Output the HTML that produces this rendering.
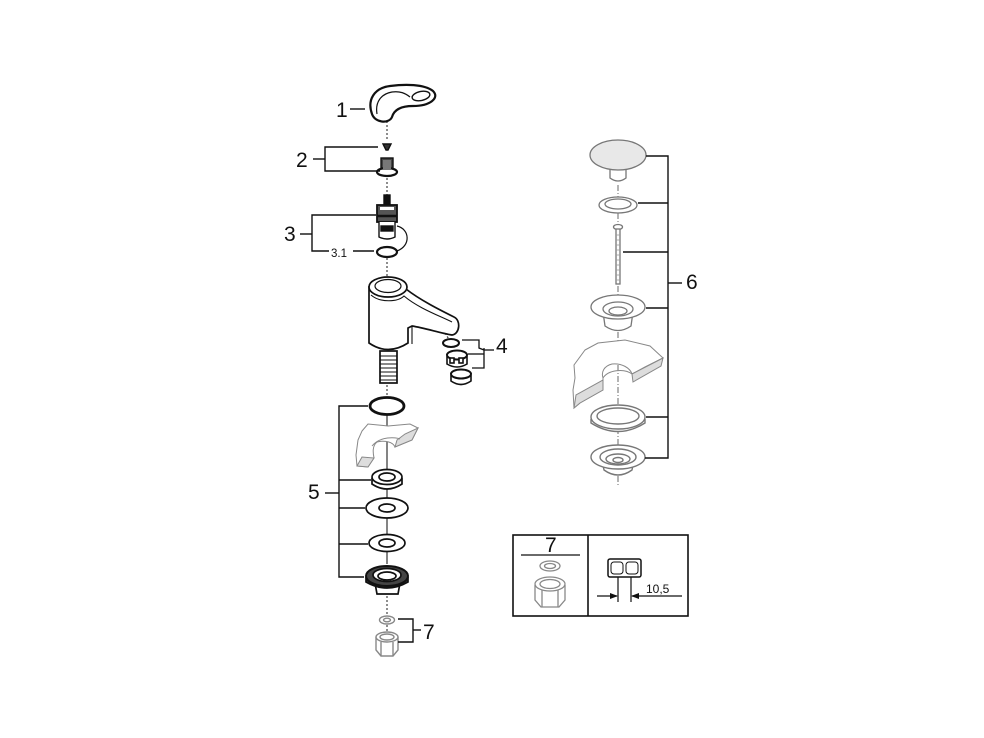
<!DOCTYPE html>
<html><head><meta charset="utf-8"><style>
html,body{margin:0;padding:0;background:#fff;}
svg{display:block;}
text{font-family:"Liberation Sans",sans-serif;fill:#111;}
</style></head><body>
<svg width="984" height="738" viewBox="0 0 984 738" xmlns="http://www.w3.org/2000/svg">
<rect width="984" height="738" fill="#fff"/>

<!-- ===== LEFT AXIS dashed ===== -->
<g stroke="#444" stroke-width="1.2" stroke-dasharray="2,2" fill="none">
  <line x1="387" y1="121" x2="387" y2="141"/>
  <line x1="387" y1="178" x2="387" y2="196"/>
  <line x1="387" y1="258" x2="387" y2="278"/>
  <line x1="387" y1="385" x2="387" y2="397"/>
  <line x1="387" y1="596" x2="387" y2="614"/>
  <line x1="387" y1="625" x2="387" y2="633"/>
  <line x1="445" y1="333" x2="450" y2="341"/>
</g>
<g stroke="#333" stroke-width="1.2" fill="none">
  <line x1="387" y1="414" x2="387" y2="470"/>
  <line x1="387" y1="486" x2="387" y2="498"/>
  <line x1="387" y1="518" x2="387" y2="534"/>
  <line x1="387" y1="552" x2="387" y2="564"/>
</g>

<!-- ===== 1 handle ===== -->
<g stroke="#111" stroke-width="2.2" fill="#fff">
  <path d="M372,114 C367,100 374,88 390,86 C405,84 424,84 433,91 C440,98 430,106 413,106 C401,106 394,110 392,117 C389,124 375,123 372,114 Z"/>
  <path d="M377,114 C375,102 381,94 392,92 C400,91 405,93 410,97" fill="none" stroke-width="1.2"/>
  <ellipse cx="421" cy="96" rx="9" ry="4.5" transform="rotate(-12 421 96)" stroke-width="1.4"/>
</g>
<line x1="350" y1="109" x2="365" y2="109" stroke="#111" stroke-width="1.4"/>
<text x="336" y="117" font-size="21">1</text>

<!-- ===== 2 ===== -->
<g stroke="#111" stroke-width="1.4">
  <path d="M383,144 L391,144 L388,150 L386,150 Z" fill="#333"/>
  <rect x="381" y="158" width="12" height="12" fill="#444"/>
  <ellipse cx="387" cy="172" rx="10" ry="4" fill="#fff" stroke-width="2.2"/>
  <rect x="383" y="160" width="8" height="10" fill="#777" stroke="none"/>
</g>
<g stroke="#111" stroke-width="1.4" fill="none">
  <polyline points="378,147 325,147 325,171 380,171"/>
  <line x1="313" y1="159" x2="325" y2="159"/>
</g>
<text x="296" y="167" font-size="21">2</text>

<!-- ===== 3 cartridge ===== -->
<g stroke="#111" stroke-width="1.4">
  <rect x="384" y="195" width="6" height="11" fill="#111"/>
  <rect x="377" y="205" width="20" height="17" fill="#555" stroke-width="1.8"/>
  <rect x="380" y="207" width="14" height="3" fill="#fff" stroke="none"/>
  <line x1="377" y1="216" x2="397" y2="216" stroke-width="2.5"/>
  <path d="M379,222 L379,237 Q387,241 395,237 L395,222" fill="#fff"/>
  <rect x="381" y="226" width="12" height="5" fill="#111"/>
  <path d="M397,226 C410,229 411,246 397,251" fill="none" stroke-width="1.2"/>
  <ellipse cx="387" cy="252" rx="10" ry="5" fill="none" stroke-width="2.2"/>
</g>
<g stroke="#111" stroke-width="1.4" fill="none">
  <polyline points="376,215 312,215 312,251 329,251"/>
  <line x1="353" y1="251" x2="374" y2="251"/>
  <line x1="300" y1="234" x2="312" y2="234"/>
</g>
<text x="284" y="241" font-size="21">3</text>
<text x="331" y="257" font-size="11.5">3.1</text>

<!-- ===== faucet body ===== -->
<g stroke="#111" stroke-width="1.7" fill="#fff">
  <path d="M369,287 L369,343 Q388,356 408,343 L408,328 L412,326 C425,328 440,333 452,335 C460,334 461,320 454,317 C440,310 420,300 406,289 Z"/>
  <ellipse cx="388" cy="287" rx="19" ry="10"/>
  <ellipse cx="388" cy="286" rx="13" ry="6.5" stroke-width="1.2"/>
  <path d="M371,295 C380,303 398,302 404,296 C418,308 440,316 452,322" fill="none" stroke-width="1.1"/>
  <line x1="412" y1="326" x2="412" y2="344" stroke-width="1.1"/>
  <rect x="380" y="351" width="17" height="32" fill="#fff"/>
</g>
<g stroke="#111" stroke-width="1.1">
  <line x1="380" y1="356" x2="397" y2="356"/><line x1="380" y1="360" x2="397" y2="360"/>
  <line x1="380" y1="364" x2="397" y2="364"/><line x1="380" y1="368" x2="397" y2="368"/>
  <line x1="380" y1="372" x2="397" y2="372"/><line x1="380" y1="376" x2="397" y2="376"/>
  <line x1="380" y1="380" x2="397" y2="380"/>
</g>

<!-- ===== 4 aerator ===== -->
<g stroke="#111" stroke-width="1.6" fill="#fff">
  <ellipse cx="451" cy="343" rx="8" ry="4" stroke-width="2"/>
  <path d="M447,356 L447,364 Q457,370 467,364 L467,356" />
  <ellipse cx="457" cy="355" rx="10" ry="4.5" stroke-width="2"/>
  <rect x="450" y="358" width="4" height="5" fill="#fff"/>
  <rect x="459" y="358" width="4" height="5" fill="#fff"/>
  <path d="M451,375 L451,381 Q461,388 471,381 L471,375" />
  <ellipse cx="461" cy="374" rx="10" ry="4.5" stroke-width="2"/>
</g>
<g stroke="#111" stroke-width="1.3" fill="none">
  <polyline points="462,340 479,340 479,348 484,350"/>
  <polyline points="468,354 484,354"/>
  <polyline points="472,368 484,368 484,348"/>
  <line x1="484" y1="350" x2="494" y2="350"/>
</g>
<text x="496" y="353" font-size="21">4</text>

<!-- ===== 5 ===== -->
<g stroke="#111" fill="#fff">
  <ellipse cx="387" cy="406" rx="17" ry="8.5" fill="none" stroke-width="2.8"/>
</g>
<!-- slab -->
<g stroke="#888" stroke-width="1" fill="#fff">
  <path d="M362,431 L368,424 L388,426 L410,424 L418,428 L412,440 L395,447 C393,442 385,440 377,442 C372,446 373,453 374,458 L368,467 L357,466 L356,455 L358,440 Z"/>
  <path d="M374,458 L368,467 L357,466 L362,457 Z" fill="#ddd"/>
  <path d="M395,447 L412,440 L418,428 L405,434 L397,440 Z" fill="#ddd"/>
  <path d="M372,446 C380,436 396,437 400,439" fill="none"/>
</g>
<g stroke="#111" stroke-width="1.7" fill="#fff">
  <path d="M372,478 L372,484 Q387,494 402,484 L402,478"/>
  <ellipse cx="387" cy="477" rx="15" ry="7.5"/>
  <ellipse cx="387" cy="477" rx="8" ry="4"/>
  <ellipse cx="387" cy="508" rx="21" ry="10"/>
  <ellipse cx="387" cy="508" rx="8" ry="4"/>
  <ellipse cx="387" cy="543" rx="18" ry="8.5"/>
  <ellipse cx="387" cy="543" rx="8" ry="4"/>
  <!-- big nut -->
  <path d="M375,583 L377,594 L398,594 L400,583 Z"/>
  <path d="M366,577 L366,582 Q387,594 408,582 L408,577" fill="#333"/>
  <ellipse cx="387" cy="576" rx="21" ry="10" stroke-width="2" fill="#444"/>
  <ellipse cx="387" cy="575" rx="14" ry="6.5" fill="#fff"/>
  <ellipse cx="387" cy="576" rx="9" ry="4"/>
</g>
<g stroke="#111" stroke-width="1.4" fill="none">
  <polyline points="368,406 339,406 339,577 364,577"/>
  <line x1="339" y1="480" x2="371" y2="480"/>
  <line x1="339" y1="508" x2="365" y2="508"/>
  <line x1="339" y1="544" x2="368" y2="544"/>
  <line x1="325" y1="493" x2="339" y2="493"/>
</g>
<text x="308" y="499" font-size="21">5</text>

<!-- ===== 7 bottom ===== -->
<g stroke="#888" stroke-width="1.4" fill="#fff">
  <ellipse cx="387" cy="620" rx="7.5" ry="4"/>
  <ellipse cx="387" cy="620" rx="3.5" ry="1.8"/>
  <path d="M376,637 L376,650 L381,656 L393,656 L398,650 L398,637"/>
  <ellipse cx="387" cy="637" rx="11" ry="5"/>
  <ellipse cx="387" cy="637" rx="7" ry="3"/>
  <line x1="381" y1="642" x2="381" y2="656"/><line x1="393" y1="642" x2="393" y2="656"/>
</g>
<g stroke="#111" stroke-width="1.4" fill="none">
  <polyline points="398,619 413,619 413,642 398,642"/>
  <line x1="413" y1="630" x2="421" y2="630"/>
</g>
<text x="423" y="639" font-size="21">7</text>

<!-- ===== RIGHT ASSEMBLY (6) ===== -->
<g stroke="#777" stroke-width="1.1" fill="none" stroke-dasharray="6,2,1,2">
  <line x1="618" y1="185" x2="618" y2="197"/>
  <line x1="618" y1="213" x2="618" y2="222"/>
  <line x1="618" y1="286" x2="618" y2="296"/>
  <line x1="618" y1="332" x2="618" y2="407"/>
  <line x1="618" y1="428" x2="618" y2="446"/>
  <line x1="618" y1="476" x2="618" y2="485"/>
</g>
<g stroke="#777" stroke-width="1.3" fill="#fff">
  <!-- cap -->
  <path d="M610,168 L610,178 Q618,184 626,178 L626,168 Z"/>
  <ellipse cx="618" cy="155" rx="28" ry="15" fill="#e8e8e8"/>
  <!-- ring -->
  <ellipse cx="618" cy="205" rx="19" ry="8"/>
  <ellipse cx="618" cy="204" rx="13" ry="5"/>
  <!-- screw -->
  <ellipse cx="618" cy="227" rx="4.5" ry="2.5"/>
  <rect x="616" y="229" width="4" height="55"/>
</g>
<g stroke="#999" stroke-width="0.8">
  <line x1="616" y1="235" x2="620" y2="235"/><line x1="616" y1="240" x2="620" y2="240"/>
  <line x1="616" y1="245" x2="620" y2="245"/><line x1="616" y1="250" x2="620" y2="250"/>
  <line x1="616" y1="255" x2="620" y2="255"/><line x1="616" y1="260" x2="620" y2="260"/>
  <line x1="616" y1="265" x2="620" y2="265"/><line x1="616" y1="270" x2="620" y2="270"/>
  <line x1="616" y1="275" x2="620" y2="275"/><line x1="616" y1="280" x2="620" y2="280"/>
</g>
<g stroke="#777" stroke-width="1.3" fill="#fff">
  <!-- flange -->
  <path d="M603,312 L605,326 Q618,335 631,326 L633,312"/>
  <ellipse cx="618" cy="307" rx="27" ry="12"/>
  <ellipse cx="618" cy="309" rx="15" ry="7"/>
  <ellipse cx="618" cy="311" rx="9" ry="4"/>
</g>
<!-- sink slab right -->
<g stroke="#888" stroke-width="1" fill="#fff">
  <path d="M585,350 L598,343 L625,340 L650,346 L663,358 L645,367 L632,374 C630,368 622,363 612,364 C604,366 601,372 603,378 L603,390 L580,403 L574,408 L573,390 L575,378 L574,365 Z"/>
  <path d="M603,390 L580,403 L574,408 L576,395 L603,380 Z" fill="#ddd"/>
  <path d="M632,374 L663,358 L661,366 L633,382 Z" fill="#ddd"/>
  <path d="M603,378 C608,370 624,368 632,374" fill="none"/>
</g>
<g stroke="#777" stroke-width="1.4" fill="#fff">
  <path d="M591,419 L591,423 Q618,440 645,423 L645,419"/>
  <ellipse cx="618" cy="417" rx="27" ry="12"/>
  <ellipse cx="618" cy="416" rx="21" ry="8"/>
  <path d="M602,460 L604,470 Q618,480 632,470 L634,460"/>
  <ellipse cx="618" cy="457" rx="27" ry="12"/>
  <ellipse cx="618" cy="457" rx="18" ry="8"/>
  <ellipse cx="618" cy="459" rx="12" ry="5"/>
  <ellipse cx="618" cy="460" rx="5" ry="2.5"/>
</g>
<g stroke="#111" stroke-width="1.4" fill="none">
  <polyline points="646,156 668,156 668,458 645,458"/>
  <line x1="638" y1="203" x2="668" y2="203"/>
  <line x1="623" y1="252" x2="668" y2="252"/>
  <line x1="646" y1="308" x2="668" y2="308"/>
  <line x1="646" y1="417" x2="668" y2="417"/>
  <line x1="668" y1="283" x2="682" y2="283"/>
</g>
<text x="686" y="289" font-size="21">6</text>

<!-- ===== BOX ===== -->
<g stroke="#111" stroke-width="1.6" fill="none">
  <rect x="513" y="535" width="175" height="81"/>
  <line x1="588" y1="535" x2="588" y2="616"/>
  <line x1="521" y1="555" x2="580" y2="555" stroke-width="1.2"/>
</g>
<text x="545" y="552" font-size="21">7</text>
<g stroke="#888" stroke-width="1.3" fill="#fff">
  <ellipse cx="550" cy="566" rx="10" ry="5"/>
  <ellipse cx="550" cy="566" rx="5.5" ry="2.5"/>
  <path d="M535,585 L535,600 L541,607 L559,607 L565,600 L565,585"/>
  <ellipse cx="550" cy="584" rx="15" ry="7"/>
  <ellipse cx="550" cy="584" rx="10" ry="4.5"/>
  <line x1="542" y1="590" x2="542" y2="607"/><line x1="558" y1="590" x2="558" y2="607"/>
</g>
<g stroke="#111" stroke-width="1.5" fill="#fff">
  <rect x="608" y="559" width="33" height="18" rx="2"/>
  <rect x="611" y="562" width="12" height="12" rx="3" stroke-width="1"/>
  <rect x="626" y="562" width="12" height="12" rx="3" stroke-width="1"/>
</g>
<g stroke="#111" stroke-width="1.2" fill="none">
  <line x1="618" y1="577" x2="618" y2="602"/>
  <line x1="631" y1="577" x2="631" y2="602"/>
  <line x1="597" y1="596" x2="617" y2="596"/>
  <line x1="632" y1="596" x2="682" y2="596"/>
</g>
<polygon points="618,596 610,593 610,599" fill="#111"/>
<polygon points="631,596 639,593 639,599" fill="#111"/>
<text x="646" y="593" font-size="12">10,5</text>
</svg>
</body></html>
